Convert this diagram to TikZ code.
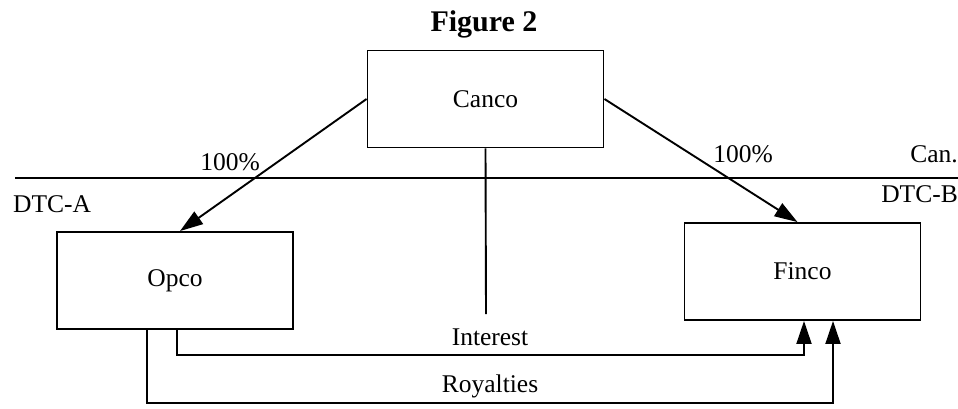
\documentclass[tikz,border=0pt]{standalone}
\usepackage{fontspec}
\setmainfont{Liberation Serif}
\usetikzlibrary{arrows.meta}
\begin{document}
\begin{tikzpicture}[x=1pt,y=-1pt,
  every node/.style={font=\fontsize{25.5}{30}\selectfont, inner sep=0pt},
  entity/.style={draw, line width=1.9pt, minimum width=236pt, minimum height=97pt},
  wire/.style={line width=1.9pt},
  arr/.style={wire, -{Triangle[length=23pt,width=15pt]}},
  lbl/.style={anchor=base}]
\useasboundingbox (0,0) rectangle (958,409);
% title
\node[font=\fontsize{30}{35}\selectfont\bfseries, anchor=base] (title) at (484,32) {Figure 2};
% boxes
\node[entity] (canco) at (485.5,99) {Canco};
\node[entity] (opco) at (175,280.5) {Opco};
\node[entity] (finco) at (802.5,271.5) {Finco};
% border line
\coordinate (bl) at (15,178);
\coordinate (br) at (958,178);
\draw[wire] (bl) -- (br);
% labels of the border
\node[anchor=base west] (dtca) at (13,212) {DTC-A};
\node[anchor=base east] (dtcb) at (958,202) {DTC-B};
\node[anchor=base east] (can) at (958,162) {Can.};
\node[lbl] (pl) at (230,170) {100\%};
\node[lbl] (pr) at (743,162) {100\%};
% ownership arrows
\draw[arr] (canco.west) -- ([xshift=5pt]opco.north);
\draw[arr] (canco.east) -- ([xshift=-5pt]finco.north);
% vertical line
\coordinate (vend) at (486,314);
\draw[wire] (canco.south) -- (vend);
% interest
\coordinate (i1) at (177,355);
\coordinate (i2) at (804,355);
\draw[arr] (i1 |- opco.south) -- (i1) -- (i2) -- (i2 |- finco.south);
\node[lbl] (interest) at (490,345) {Interest};
% royalties
\coordinate (r1) at (147,403);
\coordinate (r2) at (833,403);
\draw[arr] (r1 |- opco.south) -- (r1) -- (r2) -- (r2 |- finco.south);
\node[lbl] (royalties) at (490,392) {Royalties};
\end{tikzpicture}
\end{document}
